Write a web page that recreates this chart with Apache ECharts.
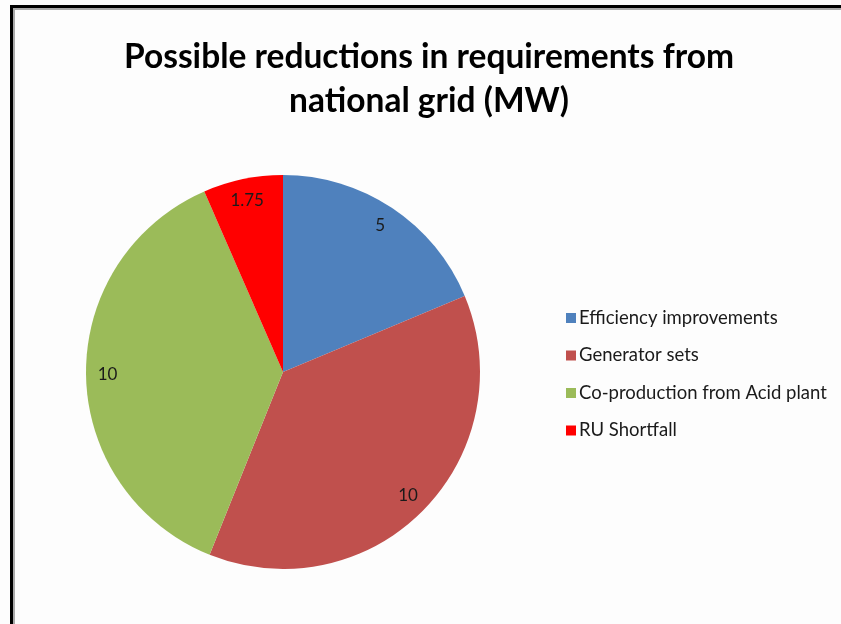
<!DOCTYPE html>
<html><head><meta charset="utf-8">
<script src="https://cdn.jsdelivr.net/npm/echarts@6/dist/echarts.min.js"></script>
<style>html,body{margin:0;padding:0;background:#fdfdfd}#c{width:841px;height:624px}</style>
</head><body><div id="c"></div>
<script>
const titleLines = ['Possible reductions in requirements from', 'national grid (MW)'];
const categories = ['Efficiency improvements', 'Generator sets', 'Co-production from Acid plant', 'RU Shortfall'];
const values = [5, 10, 10, 1.75];
const labels = ['5', '10', '10', '1.75'];
const colors = ['#4F81BD', '#C0504D', '#9BBB59', '#FF0000'];

const chart = echarts.init(document.getElementById('c'), null, {renderer: 'canvas'});
const data = categories.map((c, i) => ({name: c, value: values[i], itemStyle: {color: colors[i]}}));
const labelData = categories.map((c, i) => ({name: c, value: values[i], label: {formatter: labels[i]}}));
const center = [283, 372];
chart.setOption({
  backgroundColor: '#fdfdfd',
  animation: false,
  title: {
    text: titleLines.join('\n'),
    left: 424, top: 30, textAlign: 'center',
    textStyle: {fontFamily: 'Lato', fontWeight: 'bold', fontSize: 33.5, lineHeight: 44, color: '#000'}
  },
  legend: {
    orient: 'vertical', left: 561, top: 303, itemGap: 17.5,
    itemWidth: 10, itemHeight: 10, icon: 'rect',
    data: categories,
    textStyle: {fontFamily: 'Lato', fontSize: 18.5, lineHeight: 20, color: '#1a1a1a', padding: [0, 0, 0, -2]}
  },
  graphic: [
    {type: 'rect', shape: {x: 10, y: 5, width: 3, height: 619}, style: {fill: '#000'}, silent: true},
    {type: 'rect', shape: {x: 10, y: 5, width: 831, height: 3}, style: {fill: '#000'}, silent: true},
    {type: 'rect', shape: {x: 13, y: 8, width: 2, height: 616}, style: {fill: '#aaa'}, silent: true},
    {type: 'rect', shape: {x: 13, y: 8, width: 828, height: 2}, style: {fill: '#aaa'}, silent: true}
  ],
  series: [
    {
      type: 'pie', center: center, radius: [0, 197], startAngle: 90, clockwise: true,
      label: {show: false}, labelLine: {show: false}, data: data, silent: true
    },
    {
      type: 'pie', center: center, radius: [148, 197], startAngle: 90, clockwise: true,
      itemStyle: {color: 'rgba(0,0,0,0)'}, legendHoverLink: false,
      label: {show: true, position: 'inside', fontFamily: 'Lato', fontSize: 17, color: '#1a1a1a'},
      labelLine: {show: false}, data: labelData, silent: true, tooltip: {show: false}
    }
  ]
});
</script></body></html>
